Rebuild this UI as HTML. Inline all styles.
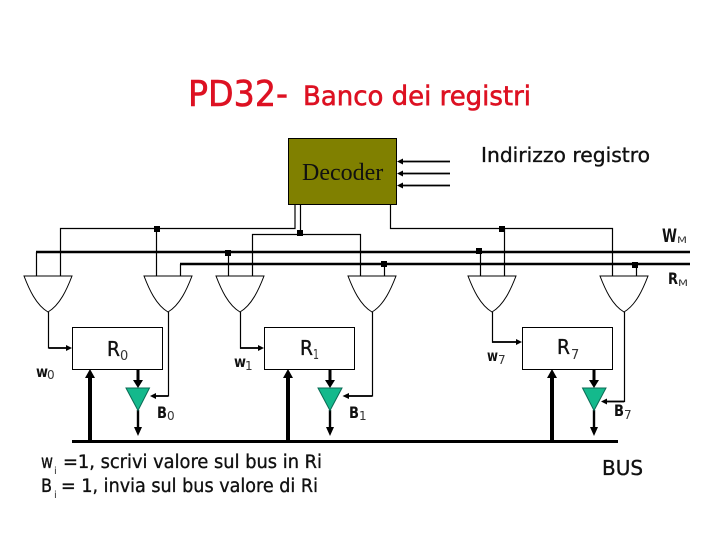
<!DOCTYPE html>
<html><head><meta charset="utf-8"><style>
html,body{margin:0;padding:0;background:#fff}
svg{display:block}
text{font-family:"DejaVu Sans","Liberation Sans",sans-serif;fill:#111}
.t{stroke:#111;stroke-width:.35}
.r{fill:#dd1122;stroke:#dd1122;stroke-width:.6}
.sub{fill:#333}
</style></head><body>
<svg width="720" height="540" viewBox="0 0 720 540" xmlns="http://www.w3.org/2000/svg">
<defs>
<path id="g" d="M0 0H48C43 13 36 29 24 36C12 29 5 13 0 0Z" fill="#fff" stroke="#000" stroke-width="1"/>
</defs>
<text x="188" y="106" font-size="36" textLength="100" lengthAdjust="spacingAndGlyphs" class="r">PD32-</text>
<text x="303" y="105" font-size="27" textLength="228" lengthAdjust="spacingAndGlyphs" class="r">Banco dei registri</text>

<g fill="none" stroke="#000" stroke-width="1.2">
<path d="M295 205V228.500H60.500V276"/>
<path d="M156.500 228.500V276"/>
<path d="M300.500 205V234.500H252.500V276"/>
<path d="M300.500 234.500H360.500V276"/>
<path d="M390.500 205V228.500H612.500V276"/>
<path d="M504.500 228.500V276"/>
<path d="M36.500 252V276M180.500 264V276M228.500 252V276M384.500 264V276M480.500 252V276M636.500 264V276"/>
<path d="M48.500 312V348H70M168.500 312V396H152M240.500 312V348H262M372.500 312V396H345M492.500 312V342H520M624.500 312V401.500H603"/>
</g>
<g stroke="#000" stroke-width="1.800" fill="none">
<path d="M49 348H68M240 348H260M492 342H518M168 396H152M372 396H346M624 401.500H606"/>
</g>
<g stroke="#000" stroke-width="2.400" fill="none">
<path d="M36 252H690M180 264H690"/>
</g>
<g fill="#000">
<rect x="154" y="226" width="6" height="6"/><rect x="297" y="230" width="6" height="6"/><rect x="225" y="250" width="6" height="6"/><rect x="381" y="261" width="6" height="6"/><rect x="476" y="248" width="6" height="6"/><rect x="499" y="226" width="6" height="6"/><rect x="632" y="262" width="6" height="6"/>
</g>
<use href="#g" x="24" y="276"/><use href="#g" x="144" y="276"/><use href="#g" x="216" y="276"/><use href="#g" x="348" y="276"/><use href="#g" x="468" y="276"/><use href="#g" x="600" y="276"/>

<rect x="288.500" y="138.500" width="108" height="66" fill="#808000" stroke="#000" stroke-width="1"/>
<text x="302" y="180" font-size="24" style="font-family:'Liberation Serif',serif">Decoder</text>
<g stroke="#000" stroke-width="1.800"><path d="M400 161.500H450M400 173.500H450M400 185.500H450"/></g>
<g fill="#000"><path d="M397 161.500L403 158.500V164.500ZM397 173.500L403 170.500V176.500ZM397 185.500L403 182.500V188.500Z"/></g>
<text x="481" y="162" font-size="20" textLength="169" lengthAdjust="spacingAndGlyphs" class="t">Indirizzo registro</text>

<g fill="#fff" stroke="#000" stroke-width="1">
<rect x="72.500" y="327.500" width="90" height="42"/>
<rect x="264.500" y="327.500" width="90" height="42"/>
<rect x="522.500" y="327.500" width="90" height="42"/>
</g>
<g fill="#000">
<path d="M72 348L66 345V351ZM264 348L258 345V351ZM522 342L516 339V345ZM150 396L156 393V399ZM342.500 396L349 393V399ZM601 401.500L607 398.500V404.500Z"/>
</g>
<g stroke="#000" fill="none">
<path d="M72 441.500H618" stroke-width="3"/>
<path d="M90 441V376M288 441V376M552 441V376" stroke-width="4"/>
<path d="M138 370V384M330 370V384M594 370V384" stroke-width="3"/>
<path d="M138 410V430M330 410V430M594 410V430" stroke-width="2.400"/>
</g>
<g fill="#000">
<path d="M90 369L85 378H95ZM288 369L283 378H293ZM552 369L547 378H557Z"/>
<path d="M138 388L133 380H143ZM330 388L325 380H335ZM594 388L589 380H599Z"/>
<path d="M138 436L134 427H142ZM330 436L326 427H334ZM594 436L590 427H598Z"/>
</g>
<g fill="#14b98c" stroke="#0b6b55" stroke-width="1">
<path d="M126 388H149.500L138 410.500Z"/><path d="M318 388H342L330 410.500Z"/><path d="M582.500 388H606L594 410.500Z"/>
</g>

<text x="107" y="356" font-size="20" class="t" textLength="13" lengthAdjust="spacingAndGlyphs">R</text><text x="120" y="360" font-size="13" class="sub">0</text>
<text x="300" y="355" font-size="20" class="t" textLength="13" lengthAdjust="spacingAndGlyphs">R</text><text x="313" y="359" font-size="13" class="sub" textLength="6" lengthAdjust="spacingAndGlyphs">1</text>
<text x="557" y="354" font-size="20" class="t" textLength="13" lengthAdjust="spacingAndGlyphs">R</text><text x="571" y="359" font-size="13" class="sub">7</text>
<text x="36" y="377" font-size="15" font-weight="bold" textLength="12" lengthAdjust="spacingAndGlyphs">w</text><text x="47" y="379" font-size="12" class="sub">0</text>
<text x="234" y="367" font-size="15" font-weight="bold" textLength="12" lengthAdjust="spacingAndGlyphs">w</text><text x="245" y="370" font-size="12" class="sub">1</text>
<text x="487" y="361" font-size="15" font-weight="bold" textLength="11" lengthAdjust="spacingAndGlyphs">w</text><text x="498" y="364" font-size="12" class="sub">7</text>
<text x="157" y="418" font-size="16" font-weight="bold" textLength="10" lengthAdjust="spacingAndGlyphs">B</text><text x="167" y="420" font-size="12" class="sub">0</text>
<text x="349" y="418" font-size="16" font-weight="bold" textLength="10" lengthAdjust="spacingAndGlyphs">B</text><text x="359" y="420" font-size="12" class="sub">1</text>
<text x="614" y="416" font-size="16" font-weight="bold" textLength="10" lengthAdjust="spacingAndGlyphs">B</text><text x="624" y="419" font-size="12" class="sub">7</text>
<text x="662" y="242" font-size="19" font-weight="bold" textLength="15" lengthAdjust="spacingAndGlyphs">W</text><text x="677" y="243" font-size="9" class="sub" textLength="10" lengthAdjust="spacingAndGlyphs">M</text>
<text x="668" y="284" font-size="16" font-weight="bold" textLength="10" lengthAdjust="spacingAndGlyphs">R</text><text x="678" y="286" font-size="9" class="sub" textLength="10" lengthAdjust="spacingAndGlyphs">M</text>
<text x="602" y="475" font-size="20" textLength="41" lengthAdjust="spacingAndGlyphs" class="t">BUS</text>

<text x="41" y="468" font-size="19" textLength="12" lengthAdjust="spacingAndGlyphs" class="t">w</text><text x="54" y="474" font-size="10" class="sub">i</text>
<text x="63" y="468" font-size="18.500" textLength="259" lengthAdjust="spacingAndGlyphs" class="t">=1, scrivi valore sul bus in Ri</text>
<text x="41" y="492" font-size="18.500" textLength="11" lengthAdjust="spacingAndGlyphs" class="t">B</text><text x="54" y="498" font-size="10" class="sub">i</text>
<text x="61" y="492" font-size="18.500" textLength="257" lengthAdjust="spacingAndGlyphs" class="t">= 1, invia sul bus valore di Ri</text>
</svg>
</body></html>
